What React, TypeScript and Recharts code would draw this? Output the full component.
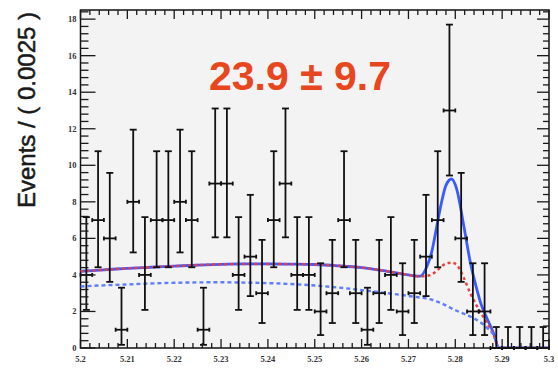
import { ComposedChart, Scatter, Line, XAxis, YAxis, ErrorBar } from "recharts";

// Binned candidate mass, 40 bins of 0.0025 starting at 5.2
const BIN_START = 5.2;
const BIN_WIDTH = 0.0025;
const COUNTS = [
  4, 7, 6, 1, 8, 4, 7, 7, 8, 7,
  1, 9, 9, 4, 5, 3, 7, 9, 4, 4,
  2, 3, 7, 3, 1, 3, 4, 2, 3, 5,
  7, 13, 6, 2, 2, 0, 0, 0, 0, 0,
];

// 68% Poisson intervals [lower, upper] for each observed count
const POISSON_BOUNDS: Record<number, [number, number]> = {
  0: [0, 1.148],
  1: [0.173, 3.3],
  2: [0.708, 4.638],
  3: [1.367, 5.918],
  4: [2.086, 7.163],
  5: [2.84, 8.382],
  6: [3.62, 9.584],
  7: [4.419, 10.77],
  8: [5.232, 11.95],
  9: [6.057, 13.11],
  13: [9.441, 17.7],
};

// Fit curves sampled along the mass axis
const CURVE_X = [
  5.2, 5.205, 5.21, 5.215, 5.22, 5.225, 5.23, 5.235, 5.24, 5.245, 5.25, 5.255,
  5.26, 5.265, 5.27, 5.2725, 5.274, 5.275, 5.276, 5.277, 5.278, 5.2792, 5.2803,
  5.2818, 5.2832, 5.2845, 5.2855, 5.2868, 5.2882, 5.2893, 5.3,
];
const TOTAL_FIT = [
  4.2, 4.28, 4.36, 4.42, 4.48, 4.54, 4.58, 4.6, 4.6, 4.59, 4.57, 4.5,
  4.4, 4.22, 4.0, 3.93, 4.5, 5.3, 6.6, 7.9, 8.9, 9.25, 8.7,
  6.7, 4.7, 3.3, 2.4, 1.6, 0.8, 0, 0,
];
const BKG_TOTAL = [
  4.2, 4.28, 4.36, 4.42, 4.48, 4.54, 4.58, 4.6, 4.6, 4.59, 4.57, 4.5,
  4.4, 4.22, 4.0, 3.92, 3.95, 4.02, 4.22, 4.45, 4.62, 4.67, 4.55,
  3.85, 3.0, 2.35, 1.9, 1.35, 0.7, 0, 0,
];
const BKG_COMBINATORIAL = [
  3.37, 3.43, 3.48, 3.53, 3.57, 3.59, 3.6, 3.58, 3.55, 3.5, 3.42, 3.31,
  3.17, 3.02, 2.85, 2.76, 2.7, 2.64, 2.55, 2.45, 2.33, 2.17, 2.04,
  1.88, 1.72, 1.55, 1.38, 1.1, 0.7, 0, 0,
];

const X_LABELS = ["5.2", "5.21", "5.22", "5.23", "5.24", "5.25", "5.26", "5.27", "5.28", "5.29", "5.3"];
const Y_LABELS = ["0", "2", "4", "6", "8", "10", "12", "14", "16", "18"];

const W = 558;
const H = 368;
const PLOT = { left: 80.5, right: 549, top: 10, bottom: 348 };

// minor ticks every 0.002 on x and 0.4 on y, major every 5th
const X_TICKS = Array.from({ length: 51 }, (_, i) => +(5.2 + i * 0.002).toFixed(3));
const Y_TICKS = Array.from({ length: 47 }, (_, i) => +(i * 0.4).toFixed(1));

const points = COUNTS.map((n, i) => {
  const [lo, hi] = POISSON_BOUNDS[n];
  return {
    x: BIN_START + (i + 0.5) * BIN_WIDTH,
    y: n,
    xerr: BIN_WIDTH / 2,
    yerr: [n - lo, hi - n],
  };
});

const curve = (ys: number[]) => CURVE_X.map((x, i) => ({ x, y: ys[i] }));

const TICK_COLOR = "#1a1a1a";
const LABEL_FONT = "'Liberation Serif', serif";

const XTick = (props: any) => {
  const { x, payload } = props;
  const idx = Math.round((payload.value - 5.2) / 0.002);
  const major = idx % 5 === 0;
  const len = major ? 9 : 5;
  return (
    <g>
      <line x1={x} x2={x} y1={PLOT.bottom} y2={PLOT.bottom - len} stroke={TICK_COLOR} strokeWidth={1.3} />
      <line x1={x} x2={x} y1={PLOT.top} y2={PLOT.top + len} stroke={TICK_COLOR} strokeWidth={1.3} />
      {major && (
        <text x={x} y={PLOT.bottom + 14} textAnchor="middle" fontSize={8.5} fontWeight="bold" fontFamily={LABEL_FONT} fill="#333">
          {X_LABELS[idx / 5]}
        </text>
      )}
    </g>
  );
};

const YTick = (props: any) => {
  const { y, payload } = props;
  const idx = Math.round(payload.value / 0.4);
  const major = idx % 5 === 0;
  return (
    <g>
      <line x1={PLOT.left} x2={PLOT.left + (major ? 15 : 8)} y1={y} y2={y} stroke={TICK_COLOR} strokeWidth={1.3} />
      <line x1={PLOT.right} x2={PLOT.right - (major ? 12 : 6)} y1={y} y2={y} stroke={TICK_COLOR} strokeWidth={1.3} />
      {major && (
        <text x={PLOT.left - 4} y={y + 3} textAnchor="end" fontSize={8.5} fontWeight="bold" fontFamily={LABEL_FONT} fill="#333">
          {Y_LABELS[idx / 5]}
        </text>
      )}
    </g>
  );
};

export default function App() {
  return (
    <div style={{ position: "absolute", left: 0, top: 0, width: W, height: H, background: "#fff" }}>
      <svg width={W} height={H} style={{ position: "absolute", left: 0, top: 0 }}>
        <rect
          x={PLOT.left}
          y={PLOT.top}
          width={PLOT.right - PLOT.left}
          height={PLOT.bottom - PLOT.top}
          fill="#f3f3f3"
          stroke="#111"
          strokeWidth={1.5}
        />
        <text
          x={35}
          y={110}
          transform="rotate(-90 35 110)"
          textAnchor="middle"
          fontSize={24}
          fontFamily="'Liberation Sans', Arial, sans-serif"
          fill="#1a1a1a"
          stroke="#1a1a1a"
          strokeWidth={0.5}
        >
          Events / ( 0.0025 )
        </text>
        <text
          x={300}
          y={90}
          textAnchor="middle"
          fontSize={41}
          fontWeight="bold"
          fontFamily="'Liberation Sans', Arial, sans-serif"
          fill="#e8461e"
        >
          23.9 ± 9.7
        </text>
      </svg>
      <div style={{ position: "absolute", left: 0, top: 0 }}>
        <ComposedChart width={W} height={H} margin={{ top: PLOT.top, right: W - PLOT.right, bottom: 0, left: 0 }}>
          <XAxis
            dataKey="x"
            type="number"
            domain={[5.2, 5.3]}
            ticks={X_TICKS}
            interval={0}
            allowDataOverflow
            tickLine={false}
            axisLine={false}
            height={H - PLOT.bottom}
            tick={(p: any) => <XTick {...p} />}
          />
          <YAxis
            type="number"
            domain={[0, 18.5]}
            ticks={Y_TICKS}
            interval={0}
            allowDataOverflow
            tickLine={false}
            axisLine={false}
            width={PLOT.left}
            tick={(p: any) => <YTick {...p} />}
          />
          <Line
            data={curve(TOTAL_FIT)}
            dataKey="y"
            type="monotone"
            stroke="#3b5bff"
            strokeWidth={2.8}
            dot={false}
            isAnimationActive={false}
          />
          <Line
            data={curve(BKG_TOTAL)}
            dataKey="y"
            type="monotone"
            stroke="#f03c3c"
            strokeWidth={2.4}
            strokeDasharray="3 3"
            dot={false}
            isAnimationActive={false}
          />
          <Line
            data={curve(BKG_COMBINATORIAL)}
            dataKey="y"
            type="monotone"
            stroke="#5f7dff"
            strokeWidth={2.4}
            strokeDasharray="4 3"
            dot={false}
            isAnimationActive={false}
          />
          <Scatter data={points} dataKey="y" shape={() => <g />} isAnimationActive={false}>
            <ErrorBar dataKey="yerr" direction="y" width={3.5} stroke="#111" strokeWidth={1.8} />
            <ErrorBar dataKey="xerr" direction="x" width={2} stroke="#111" strokeWidth={1.8} />
          </Scatter>
        </ComposedChart>
      </div>
    </div>
  );
}
